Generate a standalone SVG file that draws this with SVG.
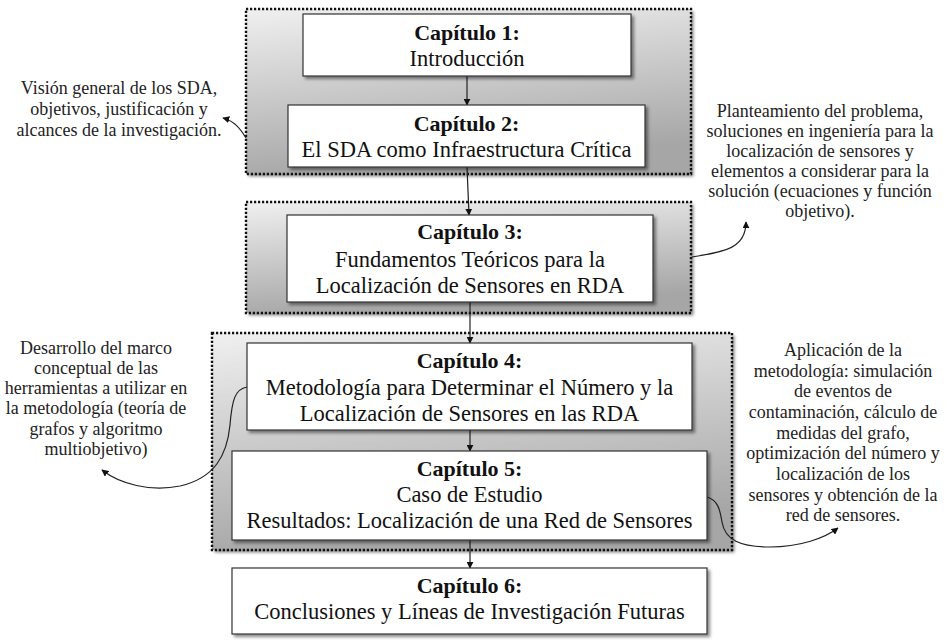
<svg xmlns="http://www.w3.org/2000/svg" width="947" height="640" viewBox="0 0 947 640">
  <style>
    .grp { fill: url(#grpFill); filter: url(#shadow); }
    .grpEdge { fill: none; stroke: #111; stroke-width: 2.4; stroke-dasharray: 2.2 1.8; }
    .box { fill: #fff; stroke: #333; stroke-width: 1.2; filter: url(#shadow); }
    .head { font-family: "Liberation Serif", "Times New Roman", serif; font-weight: bold; font-size: 22px; fill: #111; text-anchor: middle; }
    .body { font-family: "Liberation Serif", "Times New Roman", serif; font-size: 22.5px; fill: #111; text-anchor: middle; }
    .note { font-family: "Liberation Serif", "Times New Roman", serif; font-size: 18px; fill: #222; text-anchor: middle; }
    .link { fill: none; stroke: #222; stroke-width: 1.2; marker-end: url(#tip); }
  </style>
  <defs>
    <linearGradient id="grpFill" x1="0" y1="0" x2="0.25" y2="1">
      <stop offset="0" stop-color="#f0f0f0"/>
      <stop offset="1" stop-color="#a6a6a6"/>
    </linearGradient>
    <filter id="shadow" x="-5%" y="-5%" width="115%" height="120%">
      <feDropShadow dx="2.5" dy="2.5" stdDeviation="1.5" flood-color="#000" flood-opacity="0.45"/>
    </filter>
    <marker id="tip" viewBox="0 0 10 10" refX="9" refY="5" markerWidth="7" markerHeight="7" markerUnits="userSpaceOnUse" orient="auto">
      <path d="M0,0 L10,5 L0,10 z" fill="#111"/>
    </marker>
  </defs>

  <!-- shaded chapter groupings -->
  <g id="group-1-2">
    <rect class="grp" x="246" y="9" width="445" height="165"/>
    <rect class="grpEdge" x="246" y="9" width="445" height="165"/>
  </g>
  <g id="group-3">
    <rect class="grp" x="246" y="202" width="445" height="111"/>
    <rect class="grpEdge" x="246" y="202" width="445" height="111"/>
  </g>
  <g id="group-4-5">
    <rect class="grp" x="212" y="333" width="520" height="217"/>
    <rect class="grpEdge" x="212" y="333" width="520" height="217"/>
  </g>

  <!-- connectors -->
  <g id="connectors">
    <line class="link" x1="467" y1="76" x2="467" y2="105"/>
    <line class="link" x1="467" y1="167" x2="469" y2="215"/>
    <line class="link" x1="470" y1="302" x2="470" y2="343"/>
    <line class="link" x1="470" y1="430" x2="470" y2="451"/>
    <line class="link" x1="470" y1="540" x2="470" y2="568"/>
    <path class="link" d="M246,138 C240,128 234,121 223,118"/>
    <path class="link" d="M692,257 C725,252 746,248 746,222"/>
    <path class="link" d="M247,387 C235,389 232,400 230,425 C227,455 215,478 180,486 C150,492 120,484 102,470"/>
    <path class="link" d="M707,497 C718,500 720,510 722,522 C725,540 740,547 770,547 C800,547 825,538 838,528"/>
  </g>

  <!-- chapter boxes -->
  <g id="cap1">
    <rect class="box" x="303" y="14" width="328" height="62"/>
    <text class="head" x="467" y="40">Capítulo 1:</text>
    <text class="body" x="467" y="66">Introducción</text>
  </g>
  <g id="cap2">
    <rect class="box" x="288" y="105" width="357" height="62"/>
    <text class="head" x="466.5" y="131">Capítulo 2:</text>
    <text class="body" x="466.5" y="157">El SDA como Infraestructura Crítica</text>
  </g>
  <g id="cap3">
    <rect class="box" x="287" y="215" width="366" height="87"/>
    <text class="head" x="470" y="239">Capítulo 3:</text>
    <text class="body" x="470" y="267">Fundamentos Teóricos para la</text>
    <text class="body" x="470" y="293">Localización de Sensores en RDA</text>
  </g>
  <g id="cap4">
    <rect class="box" x="247" y="343" width="445" height="87"/>
    <text class="head" x="469.5" y="368">Capítulo 4:</text>
    <text class="body" x="469.5" y="395">Metodología para Determinar el Número y la</text>
    <text class="body" x="469.5" y="421">Localización de Sensores en las RDA</text>
  </g>
  <g id="cap5">
    <rect class="box" x="232" y="451" width="475" height="89"/>
    <text class="head" x="469.5" y="476">Capítulo 5:</text>
    <text class="body" x="469.5" y="502">Caso de Estudio</text>
    <text class="body" x="469.5" y="528">Resultados: Localización de una Red de Sensores</text>
  </g>
  <g id="cap6">
    <rect class="box" x="232" y="568" width="475" height="66"/>
    <text class="head" x="469.5" y="593">Capítulo 6:</text>
    <text class="body" x="469.5" y="619">Conclusiones y Líneas de Investigación Futuras</text>
  </g>

  <!-- side notes -->
  <g id="note-cap1-2">
    <text class="note" x="119" y="94">Visión general de los SDA,</text>
    <text class="note" x="119" y="115">objetivos, justificación y</text>
    <text class="note" x="119" y="136">alcances de la investigación.</text>
  </g>
  <g id="note-cap3">
    <text class="note" x="820" y="117">Planteamiento del problema,</text>
    <text class="note" x="820" y="137">soluciones en ingeniería para la</text>
    <text class="note" x="820" y="157">localización de sensores y</text>
    <text class="note" x="820" y="177">elementos a considerar para la</text>
    <text class="note" x="820" y="197">solución (ecuaciones y función</text>
    <text class="note" x="820" y="217">objetivo).</text>
  </g>
  <g id="note-cap4">
    <text class="note" x="96" y="354">Desarrollo del marco</text>
    <text class="note" x="96" y="374">conceptual de las</text>
    <text class="note" x="96" y="394">herramientas a utilizar en</text>
    <text class="note" x="96" y="414">la metodología (teoría de</text>
    <text class="note" x="96" y="435">grafos y algoritmo</text>
    <text class="note" x="96" y="455">multiobjetivo)</text>
  </g>
  <g id="note-cap5">
    <text class="note" x="843" y="356">Aplicación de la</text>
    <text class="note" x="843" y="377">metodología: simulación</text>
    <text class="note" x="843" y="397">de eventos de</text>
    <text class="note" x="843" y="418">contaminación, cálculo de</text>
    <text class="note" x="843" y="439">medidas del grafo,</text>
    <text class="note" x="843" y="459">optimización del número y</text>
    <text class="note" x="843" y="480">localización de los</text>
    <text class="note" x="843" y="501">sensores y obtención de la</text>
    <text class="note" x="843" y="521">red de sensores.</text>
  </g>
</svg>
